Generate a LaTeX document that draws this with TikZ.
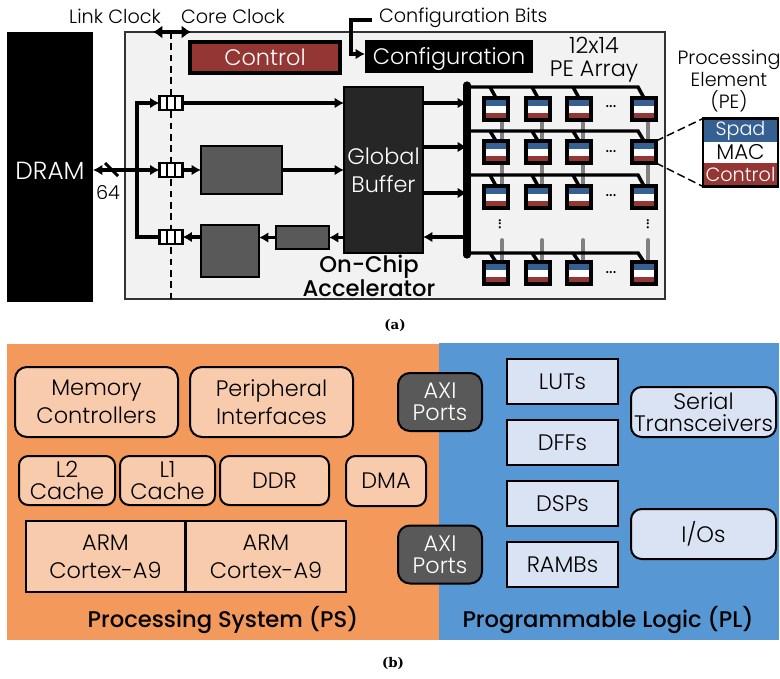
\documentclass[tikz,border=0pt]{standalone}
\usepackage{fontspec}
\usepackage{amsmath}
\usepackage{xcolor}
\newfontfamily\qfont{Poppins Light}
\newfontfamily\qmedfont{Poppins Medium}
\newfontfamily\capfont{DejaVu Serif}
\newcommand{\pxu}{0.75pt}
\definecolor{ctrlred}{HTML}{943634}
\definecolor{spadblue}{HTML}{376092}
\definecolor{psorange}{HTML}{F2995B}
\definecolor{plblue}{HTML}{5797D3}
\definecolor{pslight}{HTML}{F8CBAD}
\definecolor{pllight}{HTML}{DAE3F3}
\definecolor{darkgray}{HTML}{595959}
\usetikzlibrary{arrows.meta}
\usetikzlibrary{shapes}
\tikzset{sz/.style 2 args={minimum width=#1*\pxu,minimum height=#2*\pxu},
 every node/.style={inner sep=0pt,outer sep=0pt,align=center,text=black},
 big/.style={font=\qfont\fontsize{16.8}{21}\selectfont},
 tight/.style={font=\qfont\fontsize{16.8}{16.2}\selectfont},
 small/.style={font=\qfont\fontsize{14.4}{16.5}\selectfont},
 blockbox/.style={draw=black,line width=2.2pt,fill=darkgray},
 ps/.style={draw=black,line width=1.5pt,fill=pslight,rounded corners=9pt,big},
 pl/.style={draw=black,line width=1.5pt,fill=pllight,big},
 axi/.style={draw=black,line width=1.5pt,fill=darkgray,rounded corners=9pt,tight,text=white},
 regbox/.style={draw=black,line width=1.8pt,fill=white,rectangle split,rectangle split horizontal,
  rectangle split parts=3,rectangle split part align=center,minimum height=14*\pxu,text width=4.6pt},
 pebox/.style={draw=black,line width=2.4pt,fill=white,sz={24}{22},path picture={
  \fill[spadblue] (path picture bounding box.north west) rectangle ([yshift=-7.5*\pxu]path picture bounding box.north east);
  \fill[ctrlred] (path picture bounding box.south west) rectangle ([yshift=7.5*\pxu]path picture bounding box.south east);}},
 arr/.style={line width=2.8pt,-{Latex[length=7pt,width=8pt]}},
 wire/.style={line width=2.8pt},
 gridline/.style={line width=2.6pt},
 graylink/.style={line width=2.8pt,color=gray,line cap=round},
 title/.style={font=\qmedfont\fontsize{17}{16.5}\selectfont},
 captionlbl/.style={font=\capfont\fontsize{10}{12}\selectfont\bfseries},
 dotslbl/.style={font=\qmedfont\fontsize{11}{12}\selectfont},
 }
\begin{document}
\begin{tikzpicture}[x=0.75pt,y=-0.75pt]
        \useasboundingbox (0,0) rectangle (780,678);
        % part (a)
        \node[fill=black,sz={86}{270},text=white,big,font=\qfont\fontsize{18.6}{20}\selectfont] (dram) at (50,167) {\raisebox{-9pt}[0pt][0pt]{DRAM}};
        \node[draw=black!80,line width=1.2pt,fill=black!5,sz={540}{267}] (accel) at (395,165.5) {};
        \node[small] (linkclk) at (115,16) {Link Clock};
        \node[small] (coreclk) at (233,16) {Core Clock};
        \node[small,anchor=west] (cfgbits) at (379,18) {Configuration Bits};
        \coordinate (clktop) at (171,32);
        \coordinate (clkbot) at (171,299);
        \draw[line width=1.7pt,dash pattern=on 5pt off 3.5pt] (clktop) -- (clkbot);
        \draw[line width=3pt,{Latex[length=7pt,width=10pt]}-{Latex[length=7pt,width=10pt]}] (153,32) -- (191,32);
        \node[draw=black,line width=2.6pt,fill=ctrlred,sz={150}{31},text=white,big] (ctrl) at (265,57.5) {Control};
        \node[fill=black,sz={168}{33},text=white,big] (config) at (449,56.5) {\raisebox{-6pt}[0pt][0pt]{Configuration}};
        \coordinate (cfgin) at (372,20);
        \draw[arr] (cfgin) -- (351,20) -- (351,54) -- (config.west |- 0,54);
        \node[big,font=\qfont\fontsize{16.8}{17}\selectfont] (arraylbl) at (594,60) {12x14\\PE Array};
        \node[fill=black!85,draw=black,line width=1.8pt,sz={79}{166},text=white,big] (buffer) at (383.5,170) {Global\\Buffer};
        \node[blockbox,sz={81}{48}] (boxa) at (241.5,170) {};
        \node[blockbox,sz={58}{52}] (boxb) at (230,251) {};
        \node[blockbox,sz={53}{23}] (boxc) at (302.5,237.5) {};
        \node[regbox] (reg1) at (171,103) {\nodepart{one}\nodepart{two}\nodepart{three}};
        \node[regbox] (reg2) at (171,170) {\nodepart{one}\nodepart{two}\nodepart{three}};
        \node[regbox] (reg3) at (171,237) {\nodepart{one}\nodepart{two}\nodepart{three}};
        \coordinate (busl) at (137,170);
        \draw[line width=3.6pt,line cap=rect] (busl |- reg3) -- (busl |- reg1);
        \draw[arr] (busl |- reg1) -- (reg1.west);
        \draw[wire] (busl |- reg3) -- (reg3.west);
        \draw[line width=2.8pt,{Latex[length=7pt,width=8pt]}-{Latex[length=7pt,width=8pt]}] (dram.east |- reg2) -- (reg2.west);
        \coordinate (slasha) at (105,163);
        \coordinate (slashb) at (118,176);
        \draw[line width=2.2pt] (slasha) -- (slashb);
        \node[small] (buswidth) at (108,193) {64};
        \draw[arr] (reg1.east) -- (buffer.west |- reg1);
        \draw[arr] (reg2.east) -- (boxa.west);
        \draw[arr] (boxa.east) -- (buffer.west |- boxa);
        \draw[arr] (buffer.west |- boxc) -- (boxc.east);
        \draw[arr] (boxc.west) -- (boxb.east |- boxc);
        \draw[arr] (boxb.west |- reg3) -- (reg3.east);
        \node[title] (onchip) at (369,276) {On-Chip\\Accelerator};
        % PE array
        \foreach \cx/\gx in {1/502,2/542,3/583,4/648}{
            \draw[graylink] (\gx,118) -- (\gx,186);
            \draw[graylink] (\gx,240) -- (\gx,262);
        }
        \coordinate (bustop) at (467,85);
        \coordinate (busbot) at (467,255);
        \draw[line width=5.4pt,line cap=round] (bustop) -- (busbot);
        \foreach \rw/\ry/\ly/\dy in {1/109/87/107,2/152/131/152,3/197/175/196,4/273/253/273}{
            \foreach \cx/\px in {1/496,2/538,3/579,4/644}{
                \node[pebox] (pe-\rw-\cx) at (\px,\ry) {};
            }
            \coordinate (row\rw) at (467,\ly);
            \draw[gridline] (row\rw) -- (638,\ly) -- (pe-\rw-4.north);
            \draw[gridline] (490,\ly) -- (pe-\rw-1.north);
            \draw[gridline] (532,\ly) -- (pe-\rw-2.north);
            \draw[gridline] (573,\ly) -- (pe-\rw-3.north);
            \node[dotslbl] (dots\rw) at (611,\dy) {...};
        }
        \node[dotslbl,rotate=90] (vdotsa) at (500,224) {...};
        \node[dotslbl,rotate=90] (vdotsb) at (648,224) {...};
        \draw[arr] (buffer.east |- 0,103) -- (bustop |- 0,103);
        \draw[arr] (buffer.east |- 0,147) -- (bustop |- 0,147);
        \draw[arr] (buffer.east |- 0,193) -- (bustop |- 0,193);
        \draw[arr] (bustop |- 0,237) -- (buffer.east |- 0,237);
        % PE detail
        \node[small] (pelbl) at (729,81) {Processing\\Element\\(PE)};
        \node[fill=spadblue,sz={73}{22},text=white,small] (spad) at (740.5,130.5) {\raisebox{-1pt}{Spad}};
        \node[fill=white,sz={73}{20},small,font=\qfont\fontsize{16}{16}\selectfont] (mac) at (740.5,152) {MAC};
        \node[fill=ctrlred,sz={73}{23},text=white,small] (pectrl) at (740.5,174) {Control};
        \node[draw=black,line width=2.2pt,sz={75}{68}] (pedetail) at (740.5,152.5) {};
        \draw[line width=1.1pt,dash pattern=on 6pt off 3pt] (pe-2-4.north east) -- (pedetail.north west);
        \draw[line width=1.1pt,dash pattern=on 6pt off 3pt] (pe-2-4.south east) -- (pedetail.south west);
        \node[captionlbl] (capa) at (395,325) {(a)};
        % part (b)
        \node[fill=psorange,sz={432}{296}] (psbg) at (223,492) {};
        \node[fill=plblue,sz={340}{297}] (plbg) at (609,491.5) {};
        \node[ps,sz={163}{70}] (memctl) at (96.5,402) {Memory\\Controllers};
        \node[ps,sz={163}{70}] (periph) at (271.5,402) {Peripheral\\Interfaces};
        \node[ps,tight,sz={96}{49},rounded corners=7pt] (ltwo) at (67,480.5) {L2\\Cache};
        \node[ps,tight,sz={95}{49},rounded corners=7pt] (lone) at (167.5,480.5) {L1\\Cache};
        \node[ps,sz={109}{49},rounded corners=7pt] (ddr) at (274.5,480.5) {DDR};
        \node[ps,sz={80}{50},rounded corners=7pt] (dma) at (386,481) {DMA};
        \node[ps,sz={159}{71},rounded corners=0pt] (arma) at (105.5,556.5) {ARM\\Cortex-A9};
        \node[ps,sz={160}{71},rounded corners=0pt] (armb) at (266,556.5) {ARM\\Cortex-A9};
        \node[title] (pslbl) at (223,620) {Processing System (PS)};
        \node[axi,sz={84}{58}] (axia) at (440,402) {AXI\\Ports};
        \node[axi,sz={84}{58}] (axib) at (440,554.5) {AXI\\Ports};
        \node[pl,sz={111}{45}] (luts) at (562.5,381.5) {LUTs};
        \node[pl,sz={111}{45}] (dffs) at (562.5,442.5) {DFFs};
        \node[pl,sz={111}{45}] (dsps) at (562.5,503.5) {DSPs};
        \node[pl,sz={111}{45}] (rambs) at (562.5,564.5) {RAMBs};
        \node[pl,tight,sz={145}{50},rounded corners=8pt] (serial) at (703.5,412) {Serial\\Transceivers};
        \node[pl,sz={145}{50},rounded corners=8pt] (ios) at (703.5,534) {I/Os};
        \node[title] (pllbl) at (608,620) {Programmable Logic (PL)};
        \node[captionlbl] (capb) at (393,663) {(b)};
    \end{tikzpicture}
\end{document}
